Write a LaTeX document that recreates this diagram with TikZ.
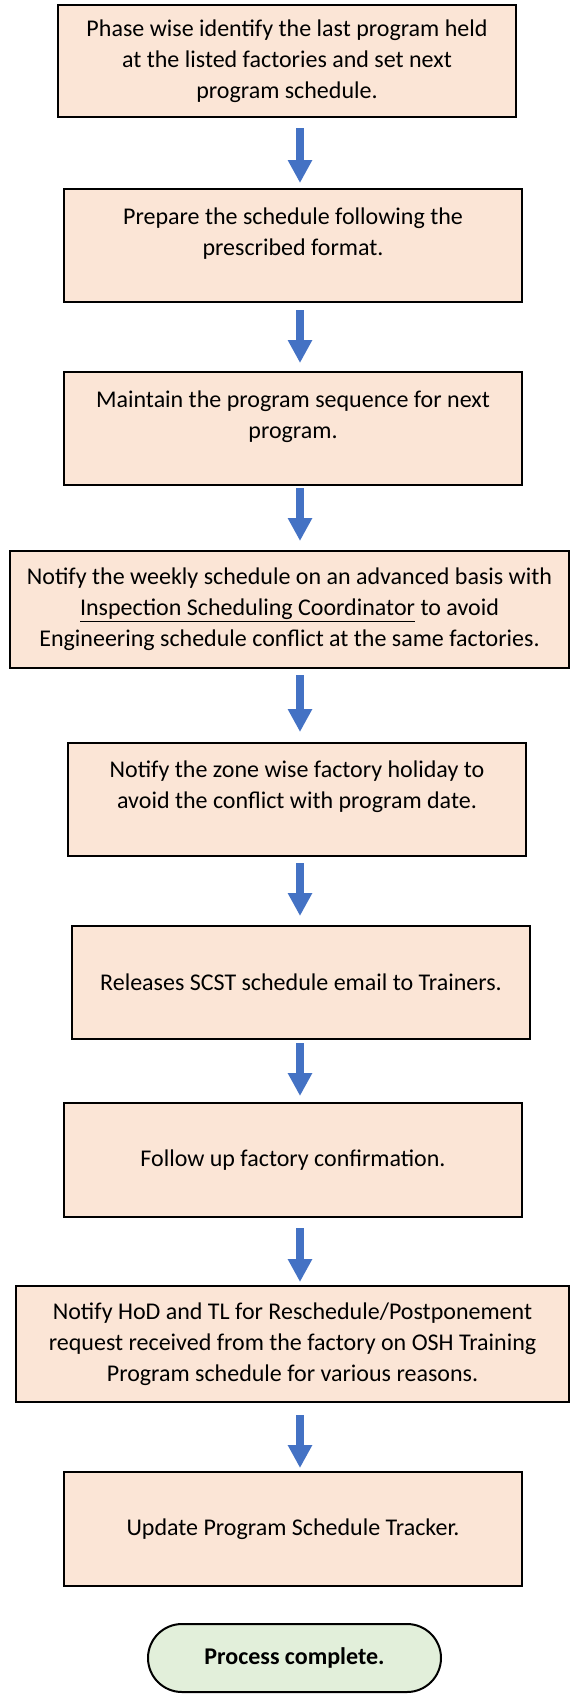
\documentclass[tikz,border=0pt]{standalone}
\usepackage{fontspec}
\setmainfont{Carlito}
\usetikzlibrary{arrows.meta,calc,shapes.misc}
\definecolor{boxfill}{HTML}{FBE5D6}
\definecolor{arrowblue}{HTML}{4472C4}
\definecolor{endfill}{HTML}{E2EFDA}
\tikzset{
  stepbox/.style={draw=black, line width=2pt, fill=boxfill, rectangle, inner sep=0pt,
    align=center, font=\fontsize{24}{31}\selectfont},
  endbox/.style={draw=black, line width=2pt, fill=endfill, rounded rectangle, inner sep=0pt,
    align=center, font=\fontsize{24}{31}\selectfont\bfseries},
  blockarrow/.style={draw=arrowblue, line width=8.4pt,
    -{Triangle[width=23pt,length=23pt]}},
}
\begin{document}
\begin{tikzpicture}[x=1pt,y=-1pt]
\useasboundingbox (0,0) rectangle (571,1695);
\coordinate (ax) at (300,0);
\node[stepbox, minimum width=458pt, minimum height=112pt] (b1) at (287,61)
  {Phase wise identify the last program held\\at the listed factories and set next\\program schedule.};
\node[stepbox, minimum width=458pt, minimum height=113pt] (b2) at (293,245.5)
  {Prepare the schedule following the\\prescribed format.\\[-4pt]\mbox{}};
\node[stepbox, minimum width=458pt, minimum height=113pt] (b3) at (293,428.5)
  {Maintain the program sequence for next\\program.\\[-4pt]\mbox{}};
\node[stepbox, minimum width=559pt, minimum height=117pt] (b4) at (289.5,609.5)
  {Notify the weekly schedule on an advanced basis with\\\underline{Inspection Scheduling Coordinator} to avoid\\Engineering schedule conflict at the same factories.};
\node[stepbox, minimum width=458pt, minimum height=113pt] (b5) at (297,799.5)
  {Notify the zone wise factory holiday to\\avoid the conflict with program date.\\[-1pt]\mbox{}};
\node[stepbox, minimum width=458pt, minimum height=113pt] (b6) at (301,982.5)
  {Releases SCST schedule email to Trainers.};
\node[stepbox, minimum width=458pt, minimum height=114pt] (b7) at (293,1160)
  {Follow up factory confirmation.};
\node[stepbox, minimum width=553pt, minimum height=116pt] (b8) at (292.5,1344)
  {Notify HoD and TL for Reschedule/Postponement\\request received from the factory on OSH Training\\Program schedule for various reasons.};
\node[stepbox, minimum width=458pt, minimum height=114pt] (b9) at (293,1529)
  {Update Program Schedule Tracker.};
\node[endbox, minimum width=293pt, minimum height=68pt] (t) at (294.5,1658)
  {Process complete.};
\draw[blockarrow, shorten <=10pt, shorten >=5pt] (b1.south -| ax) -- (b2.north -| ax);
\draw[blockarrow, shorten <=7pt, shorten >=8pt] (b2.south -| ax) -- (b3.north -| ax);
\draw[blockarrow, shorten <=2pt, shorten >=9pt] (b3.south -| ax) -- (b4.north -| ax);
\draw[blockarrow, shorten <=6pt, shorten >=10pt] (b4.south -| ax) -- (b5.north -| ax);
\draw[blockarrow, shorten <=6pt, shorten >=9pt] (b5.south -| ax) -- (b6.north -| ax);
\draw[blockarrow, shorten <=3pt, shorten >=6pt] (b6.south -| ax) -- (b7.north -| ax);
\draw[blockarrow, shorten <=10pt, shorten >=3pt] (b7.south -| ax) -- (b8.north -| ax);
\draw[blockarrow, shorten <=12pt, shorten >=3pt] (b8.south -| ax) -- (b9.north -| ax);
\end{tikzpicture}
\end{document}
